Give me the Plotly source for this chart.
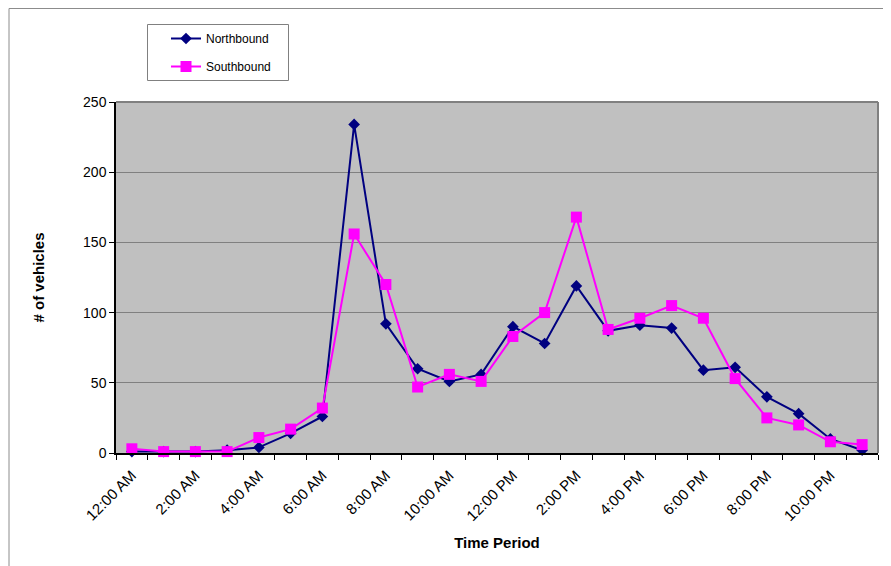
import plotly.graph_objects as go

hours = list(range(24))
tick_positions = [0, 2, 4, 6, 8, 10, 12, 14, 16, 18, 20, 22]
tick_labels = ["12:00 AM", "2:00 AM", "4:00 AM", "6:00 AM", "8:00 AM", "10:00 AM",
               "12:00 PM", "2:00 PM", "4:00 PM", "6:00 PM", "8:00 PM", "10:00 PM"]
northbound = [1, 1, 1, 2, 4, 14, 26, 234, 92, 60, 51, 56,
              90, 78, 119, 87, 91, 89, 59, 61, 40, 28, 10, 2]
southbound = [3, 1, 1, 1, 11, 17, 32, 156, 120, 47, 56, 51,
              83, 100, 168, 88, 96, 105, 96, 53, 25, 20, 8, 6]

FONT = "Liberation Sans, Arial, sans-serif"

fig = go.Figure()
fig.add_trace(go.Scatter(
    x=hours, y=northbound, name="Northbound", mode="lines+markers",
    line=dict(color="#000080", width=2),
    marker=dict(symbol="diamond", size=9, color="#000080"),
    cliponaxis=False, legendgroup="n"))
fig.add_trace(go.Scatter(
    x=hours, y=southbound, name="Southbound", mode="lines+markers",
    line=dict(color="#FF00FF", width=2),
    marker=dict(symbol="square", size=11, color="#FF00FF"),
    cliponaxis=False, legendgroup="s"))

# page body has an 8px margin: screen coordinate = figure coordinate + 8
OFF = 8
W, H = 891, 566
L, R, T, B = 108, 21, 94, 121
pw = W - L - R
ph = H - T - B

def px(x):
    return (x - OFF - L) / pw

def py(y):
    return (H - B - (y - OFF)) / ph

shapes = [
    # outer chart border (left & top)
    dict(type="line", xref="paper", yref="paper", x0=px(9), x1=px(9), y0=py(580), y1=py(8.5),
         line=dict(color="#8c8c8c", width=1)),
    dict(type="line", xref="paper", yref="paper", x0=px(9), x1=px(905), y0=py(8.5), y1=py(8.5),
         line=dict(color="#8c8c8c", width=1)),
    # plot area top & right border
    dict(type="line", xref="paper", yref="paper", x0=0, x1=1, y0=1, y1=1,
         line=dict(color="#808080", width=2)),
    dict(type="line", xref="paper", yref="paper", x0=1, x1=1, y0=0, y1=1,
         line=dict(color="#808080", width=2)),
    # legend box
    dict(type="rect", xref="paper", yref="paper", x0=px(147.5), x1=px(288.5), y0=py(80.5), y1=py(24.5),
         line=dict(color="#808080", width=1), fillcolor="white", layer="below"),
]

fig.update_layout(
    width=W, height=H,
    margin=dict(l=L, r=R, t=T, b=B),
    paper_bgcolor="white",
    plot_bgcolor="#C0C0C0",
    font=dict(family=FONT, color="black"),
    showlegend=True,
    legend=dict(x=px(166), y=py(24), xanchor="left", yanchor="top",
                bgcolor="rgba(0,0,0,0)", borderwidth=0,
                font=dict(size=12, family=FONT),
                traceorder="grouped", tracegroupgap=9),
    shapes=shapes,
    xaxis=dict(
        range=[-0.5, 23.5],
        tickmode="array", tickvals=tick_positions, ticktext=tick_labels,
        tickangle=-45, tickfont=dict(size=15, family=FONT),
        ticks="", showgrid=False, zeroline=False, ticklabelstandoff=6,
        showline=True, linecolor="black", linewidth=1.5,
        minor=dict(tickmode="array", tickvals=[i - 0.5 for i in range(25)],
                   ticks="outside", ticklen=5, tickcolor="black", showgrid=False),
        title=dict(text="<b>Time Period</b>", font=dict(size=15, family=FONT), standoff=14),
    ),
    yaxis=dict(
        range=[0, 250], tickmode="linear", tick0=0, dtick=50,
        tickfont=dict(size=14, family=FONT),
        ticks="outside", ticklen=5, tickcolor="black",
        showgrid=True, gridcolor="#808080", gridwidth=1, zeroline=False,
        showline=True, linecolor="black", linewidth=1.5,
        title=dict(text="<b># of vehicles</b>", font=dict(size=15, family=FONT), standoff=35),
    ),
)

fig.write_html("out.html")
